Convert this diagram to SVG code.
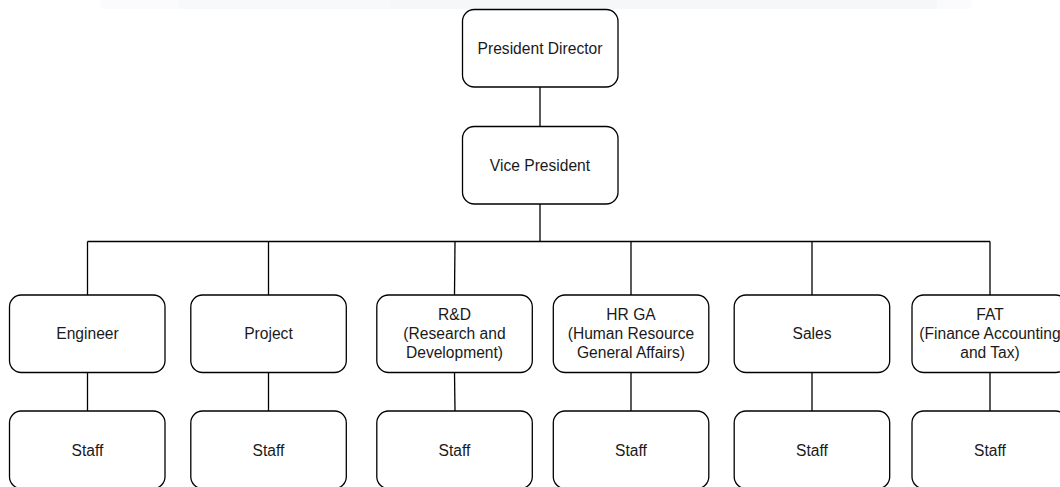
<svg xmlns="http://www.w3.org/2000/svg" width="1060" height="487" viewBox="0 0 1060 487">
<style>
.box{fill:#ffffff;stroke:#000000;stroke-width:1.3}
.lbl{font-family:"Liberation Sans",Arial,Helvetica,sans-serif;font-size:15.6px;fill:#1a1a1a;text-anchor:middle}
.conn{stroke:#000000;stroke-width:1.3;fill:none}
</style>
<rect x="0" y="0" width="1060" height="487" fill="#ffffff"/>
<g id="topband">
<rect x="101" y="0" width="870" height="9" fill="#fbfbfd"/>
<rect x="179" y="0" width="212" height="9" fill="#f8f9fb"/>
<rect x="391" y="0" width="546" height="9" fill="#f6f7f9"/>
</g>
<g id="connectors">
<path class="conn" d="M540 87 V126"/>
<path class="conn" d="M540 204 V241.5"/>
<path class="conn" d="M87.5 241.5 H990"/>
<path class="conn" d="M87.5 241.5 V295"/>
<path class="conn" d="M268.5 241.5 V295"/>
<path class="conn" d="M455 241.5 L454.5 295"/>
<path class="conn" d="M631 241.5 V295"/>
<path class="conn" d="M812 241.5 V295"/>
<path class="conn" d="M990 241.5 V295"/>
<path class="conn" d="M87.5 372.5 V411"/>
<path class="conn" d="M268.5 372.5 V411"/>
<path class="conn" d="M454.5 372.5 L455 411"/>
<path class="conn" d="M631 372.5 V411"/>
<path class="conn" d="M812 372.5 V411"/>
<path class="conn" d="M990 372.5 V411"/>
</g>
<g id="president-director">
<rect class="box" x="462.5" y="9.5" width="155.5" height="77.5" rx="11.7"/>
<text class="lbl" x="540" y="53.5">President Director</text>
</g>
<g id="vice-president">
<rect class="box" x="462.5" y="126.5" width="155.5" height="77.5" rx="11.7"/>
<text class="lbl" x="540" y="170.5">Vice President</text>
</g>
<g id="engineer">
<rect class="box" x="9.5" y="295" width="155.5" height="77.5" rx="11.7"/>
<text class="lbl" x="87.5" y="339">Engineer</text>
</g>
<g id="project">
<rect class="box" x="190.8" y="295" width="155.5" height="77.5" rx="11.7"/>
<text class="lbl" x="268.5" y="339">Project</text>
</g>
<g id="rnd">
<rect class="box" x="376.8" y="295" width="155.5" height="77.5" rx="11.7"/>
<text class="lbl" x="454.5" y="320.3">R&amp;D</text>
<text class="lbl" x="454.5" y="339">(Research and</text>
<text class="lbl" x="454.5" y="357.7">Development)</text>
</g>
<g id="hrga">
<rect class="box" x="553.3" y="295" width="155.5" height="77.5" rx="11.7"/>
<text class="lbl" x="631" y="320.3">HR GA</text>
<text class="lbl" x="631" y="339">(Human Resource</text>
<text class="lbl" x="631" y="357.7">General Affairs)</text>
</g>
<g id="sales">
<rect class="box" x="734.2" y="295" width="155.5" height="77.5" rx="11.7"/>
<text class="lbl" x="812" y="339">Sales</text>
</g>
<g id="fat">
<rect class="box" x="912" y="295" width="155.5" height="77.5" rx="11.7"/>
<text class="lbl" x="990" y="320.3">FAT</text>
<text class="lbl" x="990" y="339">(Finance Accounting</text>
<text class="lbl" x="990" y="357.7">and Tax)</text>
</g>
<g id="staff-engineer">
<rect class="box" x="9.5" y="411" width="155.5" height="77.5" rx="11.7"/>
<text class="lbl" x="87.5" y="455.5">Staff</text>
</g>
<g id="staff-project">
<rect class="box" x="190.8" y="411" width="155.5" height="77.5" rx="11.7"/>
<text class="lbl" x="268.5" y="455.5">Staff</text>
</g>
<g id="staff-rnd">
<rect class="box" x="376.8" y="411" width="155.5" height="77.5" rx="11.7"/>
<text class="lbl" x="454.5" y="455.5">Staff</text>
</g>
<g id="staff-hrga">
<rect class="box" x="553.3" y="411" width="155.5" height="77.5" rx="11.7"/>
<text class="lbl" x="631" y="455.5">Staff</text>
</g>
<g id="staff-sales">
<rect class="box" x="734.2" y="411" width="155.5" height="77.5" rx="11.7"/>
<text class="lbl" x="812" y="455.5">Staff</text>
</g>
<g id="staff-fat">
<rect class="box" x="912" y="411" width="155.5" height="77.5" rx="11.7"/>
<text class="lbl" x="990" y="455.5">Staff</text>
</g>
</svg>
